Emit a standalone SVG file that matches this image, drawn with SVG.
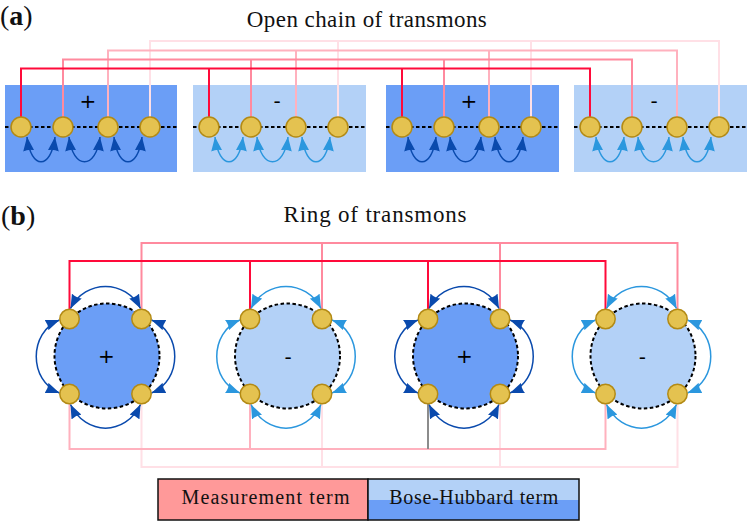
<svg xmlns="http://www.w3.org/2000/svg" width="747" height="521" viewBox="0 0 747 521">
<style>
.dk{fill:#6b9ef6}
.lt{fill:#b3d1f7}
.dash{stroke:#000;stroke-width:2;stroke-dasharray:3.5 2.5;fill:none}
.q{fill:#e4c250;stroke:#b38a14;stroke-width:1.5}
.serif{font-family:"Liberation Serif","Times New Roman",serif;fill:#111}
.sign{font-family:"DejaVu Sans",sans-serif;font-size:20px;text-anchor:middle;dominant-baseline:central;fill:#000}
.l1{stroke:#ff0a3a;stroke-width:2;fill:none}
.l2{stroke:#ff8a9e;stroke-width:2;fill:none}
.l3{stroke:#ffb1be;stroke-width:2;fill:none}
.l4{stroke:#ffe0e6;stroke-width:2;fill:none}
.lg{stroke:#8c8c8c;stroke-width:2;fill:none}
.hd{stroke:#0a4aad;stroke-width:1.5;fill:none;marker-start:url(#ad);marker-end:url(#ad)}
.hl{stroke:#2b97de;stroke-width:1.5;fill:none;marker-start:url(#al);marker-end:url(#al)}
</style>
<defs>
<marker id="ad" viewBox="0 0 14 11" refX="14" refY="5.5" markerWidth="14" markerHeight="11" markerUnits="userSpaceOnUse" orient="auto-start-reverse"><path d="M0,0 L14,5.5 L0,11 Q2,5.5 0,0Z" fill="#0a4aad"/></marker>
<marker id="al" viewBox="0 0 14 11" refX="14" refY="5.5" markerWidth="14" markerHeight="11" markerUnits="userSpaceOnUse" orient="auto-start-reverse"><path d="M0,0 L14,5.5 L0,11 Q2,5.5 0,0Z" fill="#2b97de"/></marker>
</defs>
<rect width="747" height="521" fill="#fff"/>

<!-- titles -->
<text class="serif" x="0" y="25" font-size="28">(<tspan font-weight="bold">a</tspan>)</text>
<text class="serif" x="366.8" y="27" font-size="23" text-anchor="middle" textLength="240">Open chain of transmons</text>
<text class="serif" x="1" y="225" font-size="28">(<tspan font-weight="bold">b</tspan>)</text>
<text class="serif" x="375" y="222" font-size="23" text-anchor="middle" textLength="183">Ring of transmons</text>

<!-- panel a boxes -->
<g id="chain-box-1"><rect class="dk" x="5" y="85" width="172" height="87"/><line class="dash" x1="5" y1="127" x2="177" y2="127"/><text class="sign" x="88" y="101">+</text></g>
<g id="chain-box-2"><rect class="lt" x="193" y="85" width="173" height="87"/><line class="dash" x1="193" y1="127" x2="366" y2="127"/><text class="sign" x="277" y="101">-</text></g>
<g id="chain-box-3"><rect class="dk" x="386" y="85" width="173" height="87"/><line class="dash" x1="386" y1="127" x2="559" y2="127"/><text class="sign" x="469" y="101">+</text></g>
<g id="chain-box-4"><rect class="lt" x="574" y="85" width="173" height="87"/><line class="dash" x1="574" y1="127" x2="747" y2="127"/><text class="sign" x="654" y="101">-</text></g>

<!-- panel b rings -->
<g id="ring-1"><circle cx="107" cy="356" r="52.5" class="dk"/><circle cx="107" cy="356" r="52.5" class="dash"/><text class="sign" x="106.5" y="356">+</text></g>
<g id="ring-2"><circle cx="287.5" cy="356" r="52.5" class="lt"/><circle cx="287.5" cy="356" r="52.5" class="dash"/><text class="sign" x="288" y="357">-</text></g>
<g id="ring-3"><circle cx="465.5" cy="356" r="52.5" class="dk"/><circle cx="465.5" cy="356" r="52.5" class="dash"/><text class="sign" x="464.3" y="356">+</text></g>
<g id="ring-4"><circle cx="643" cy="356" r="52.5" class="lt"/><circle cx="643" cy="356" r="52.5" class="dash"/><text class="sign" x="642.3" y="357">-</text></g>

<g id="connectors">
<!-- panel a measurement lines -->
<path class="l4" d="M150,127 V41 H719 V127 M338,41 V127 M531,41 V127"/>
<path class="l3" d="M108,127 V50.5 H677 V127 M296,50.5 V127 M489,50.5 V127"/>
<path class="l2" d="M63,127 V59.5 H632 V127 M251,59.5 V127 M444,59.5 V127"/>
<path class="l1" d="M21,127 V68.5 H590 V127 M209,68.5 V127 M402,68.5 V127"/>
<!-- panel a hopping -->
<path class="hd" d="M27,137 C31,170 51,170 55,137"/>
<path class="hd" d="M69,137 C73,170 96,170 100,137"/>
<path class="hd" d="M114,137 C118,170 138,170 142,137"/>
<path class="hl" d="M215,137 C219,170 239,170 243,137"/>
<path class="hl" d="M257,137 C261,170 284,170 288,137"/>
<path class="hl" d="M302,137 C306,170 326,170 330,137"/>
<path class="hd" d="M408,137 C412,170 432,170 436,137"/>
<path class="hd" d="M450,137 C454,170 477,170 481,137"/>
<path class="hd" d="M495,137 C499,170 519,170 523,137"/>
<path class="hl" d="M596,137 C600,170 620,170 624,137"/>
<path class="hl" d="M638,137 C642,170 665,170 669,137"/>
<path class="hl" d="M683,137 C687,170 707,170 711,137"/>
<!-- panel b measurement lines -->
<path class="l4" d="M141.5,394 V467 H677.5 V394 M322,394 V467 M500,394 V467"/>
<path class="l3" d="M69.5,394 V449 H605.5 V394 M250,394 V449"/>
<path class="lg" d="M428,394 V449"/>
<path class="l2" d="M141.5,319 V243 H677.5 V319 M322,319 V243 M500,319 V243"/>
<path class="l1" d="M69.5,319 V261 H605.5 V319 M250,319 V261 M428,319 V261"/>
<!-- panel b hopping -->
<path class="hd" d="M70.5,308.5 C85.5,279 125.5,279 140.5,308.5"/>
<path class="hd" d="M70.5,404.5 C85.5,436 125.5,436 140.5,404.5"/>
<path class="hd" d="M59.5,320 C28.5,332 28.5,381 59.5,393"/>
<path class="hd" d="M151.5,320 C182.5,332 182.5,381 151.5,393"/>
<path class="hl" d="M251,308.5 C266,279 306,279 321,308.5"/>
<path class="hl" d="M251,404.5 C266,436 306,436 321,404.5"/>
<path class="hl" d="M240,320 C209,332 209,381 240,393"/>
<path class="hl" d="M332,320 C363,332 363,381 332,393"/>
<path class="hd" d="M429,308.5 C444,279 484,279 499,308.5"/>
<path class="hd" d="M429,404.5 C444,436 484,436 499,404.5"/>
<path class="hd" d="M418,320 C387,332 387,381 418,393"/>
<path class="hd" d="M510,320 C541,332 541,381 510,393"/>
<path class="hl" d="M606.5,308.5 C621.5,279 661.5,279 676.5,308.5"/>
<path class="hl" d="M606.5,404.5 C621.5,436 661.5,436 676.5,404.5"/>
<path class="hl" d="M595.5,320 C564.5,332 564.5,381 595.5,393"/>
<path class="hl" d="M687.5,320 C718.5,332 718.5,381 687.5,393"/>
</g>

<!-- transmons panel a -->
<g id="a1-q1"><circle class="q" cx="21" cy="127" r="10"/></g>
<g id="a1-q2"><circle class="q" cx="63" cy="127" r="10"/></g>
<g id="a1-q3"><circle class="q" cx="108" cy="127" r="10"/></g>
<g id="a1-q4"><circle class="q" cx="150" cy="127" r="10"/></g>
<g id="a2-q1"><circle class="q" cx="209" cy="127" r="10"/></g>
<g id="a2-q2"><circle class="q" cx="251" cy="127" r="10"/></g>
<g id="a2-q3"><circle class="q" cx="296" cy="127" r="10"/></g>
<g id="a2-q4"><circle class="q" cx="338" cy="127" r="10"/></g>
<g id="a3-q1"><circle class="q" cx="402" cy="127" r="10"/></g>
<g id="a3-q2"><circle class="q" cx="444" cy="127" r="10"/></g>
<g id="a3-q3"><circle class="q" cx="489" cy="127" r="10"/></g>
<g id="a3-q4"><circle class="q" cx="531" cy="127" r="10"/></g>
<g id="a4-q1"><circle class="q" cx="590" cy="127" r="10"/></g>
<g id="a4-q2"><circle class="q" cx="632" cy="127" r="10"/></g>
<g id="a4-q3"><circle class="q" cx="677" cy="127" r="10"/></g>
<g id="a4-q4"><circle class="q" cx="719" cy="127" r="10"/></g>

<!-- transmons panel b -->
<g id="b1-tl"><circle class="q" cx="69.5" cy="319" r="9.7"/></g>
<g id="b1-tr"><circle class="q" cx="141.5" cy="319" r="9.7"/></g>
<g id="b1-bl"><circle class="q" cx="69.5" cy="394" r="9.7"/></g>
<g id="b1-br"><circle class="q" cx="141.5" cy="394" r="9.7"/></g>
<g id="b2-tl"><circle class="q" cx="250" cy="319" r="9.7"/></g>
<g id="b2-tr"><circle class="q" cx="322" cy="319" r="9.7"/></g>
<g id="b2-bl"><circle class="q" cx="250" cy="394" r="9.7"/></g>
<g id="b2-br"><circle class="q" cx="322" cy="394" r="9.7"/></g>
<g id="b3-tl"><circle class="q" cx="428" cy="319" r="9.7"/></g>
<g id="b3-tr"><circle class="q" cx="500" cy="319" r="9.7"/></g>
<g id="b3-bl"><circle class="q" cx="428" cy="394" r="9.7"/></g>
<g id="b3-br"><circle class="q" cx="500" cy="394" r="9.7"/></g>
<g id="b4-tl"><circle class="q" cx="605.5" cy="319" r="9.7"/></g>
<g id="b4-tr"><circle class="q" cx="677.5" cy="319" r="9.7"/></g>
<g id="b4-bl"><circle class="q" cx="605.5" cy="394" r="9.7"/></g>
<g id="b4-br"><circle class="q" cx="677.5" cy="394" r="9.7"/></g>

<!-- legend -->
<g id="legend-measurement"><rect x="158" y="479" width="210" height="41" fill="#ff9999" stroke="#111" stroke-width="1.5"/><text class="serif" x="265.5" y="504" font-size="20" text-anchor="middle" textLength="168">Measurement term</text></g>
<g id="legend-bose-hubbard"><rect x="368" y="479" width="211" height="21" class="lt"/><rect x="368" y="500" width="211" height="20" class="dk"/><rect x="368" y="479" width="211" height="41" fill="none" stroke="#111" stroke-width="1.5"/><text class="serif" x="473.8" y="504" font-size="20" text-anchor="middle" textLength="169">Bose-Hubbard term</text></g>
</svg>
